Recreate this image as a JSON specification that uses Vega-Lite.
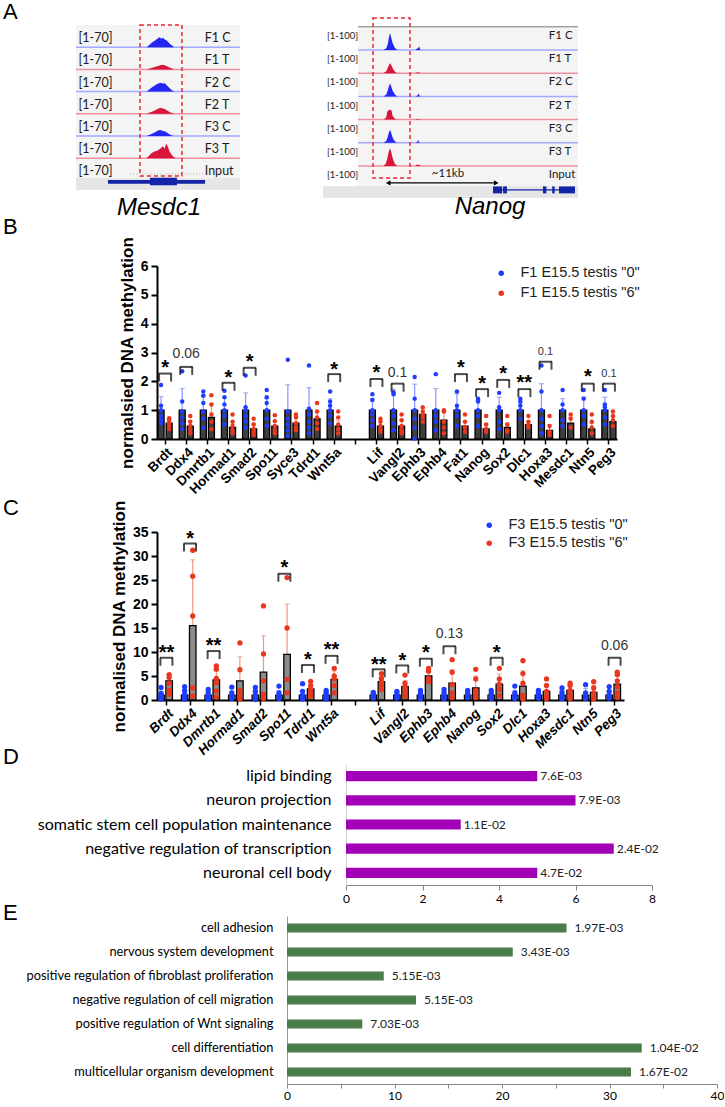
{
"$schema": "https://vega.github.io/schema/vega-lite/v6.json",
"padding": 0,
"background": "white",
"spacing": 0,
"bounds": "flush",
"align": "each",
"config": {"view": {"stroke": null}, "font": "Liberation Sans", "axis": {"grid": false}},
"resolve": {"scale": {"color": "independent"}},
"datasets": {
"mesdc1": [
{"kind":"label","track":"F1 C","grp":"C","range":"[1-70]"},
{"kind":"label","track":"F1 T","grp":"T","range":"[1-70]"},
{"kind":"label","track":"F2 C","grp":"C","range":"[1-70]"},
{"kind":"label","track":"F2 T","grp":"T","range":"[1-70]"},
{"kind":"label","track":"F3 C","grp":"C","range":"[1-70]"},
{"kind":"label","track":"F3 T","grp":"T","range":"[1-70]"},
{"kind":"label","track":"Input","grp":"Input","range":"[1-70]"},
{"kind":"band","track":"gene"},
{"kind":"utr","track":"gene","start":19.5,"end":78.7},
{"kind":"cds","track":"gene","start":45.1,"end":61.6},
{"kind":"peak","track":"F1 C","grp":"C","pos":43,"sig":0},{"kind":"peak","track":"F1 C","grp":"C","pos":44.5,"sig":6},{"kind":"peak","track":"F1 C","grp":"C","pos":46,"sig":13},{"kind":"peak","track":"F1 C","grp":"C","pos":47.5,"sig":19},{"kind":"peak","track":"F1 C","grp":"C","pos":49,"sig":24},{"kind":"peak","track":"F1 C","grp":"C","pos":50,"sig":28},{"kind":"peak","track":"F1 C","grp":"C","pos":51,"sig":31},{"kind":"peak","track":"F1 C","grp":"C","pos":52,"sig":27},{"kind":"peak","track":"F1 C","grp":"C","pos":53,"sig":30},{"kind":"peak","track":"F1 C","grp":"C","pos":54,"sig":25},{"kind":"peak","track":"F1 C","grp":"C","pos":55.5,"sig":20},{"kind":"peak","track":"F1 C","grp":"C","pos":57,"sig":12},{"kind":"peak","track":"F1 C","grp":"C","pos":58.5,"sig":5},{"kind":"peak","track":"F1 C","grp":"C","pos":60,"sig":0},
{"kind":"peak","track":"F1 T","grp":"T","pos":43,"sig":0},{"kind":"peak","track":"F1 T","grp":"T","pos":45,"sig":3},{"kind":"peak","track":"F1 T","grp":"T","pos":47,"sig":6},{"kind":"peak","track":"F1 T","grp":"T","pos":49,"sig":9},{"kind":"peak","track":"F1 T","grp":"T","pos":51,"sig":12},{"kind":"peak","track":"F1 T","grp":"T","pos":52.5,"sig":15},{"kind":"peak","track":"F1 T","grp":"T","pos":54,"sig":13},{"kind":"peak","track":"F1 T","grp":"T","pos":55.5,"sig":10},{"kind":"peak","track":"F1 T","grp":"T","pos":57,"sig":6},{"kind":"peak","track":"F1 T","grp":"T","pos":59,"sig":2},{"kind":"peak","track":"F1 T","grp":"T","pos":60,"sig":0},
{"kind":"peak","track":"F2 C","grp":"C","pos":43,"sig":0},{"kind":"peak","track":"F2 C","grp":"C","pos":44.5,"sig":6},{"kind":"peak","track":"F2 C","grp":"C","pos":46,"sig":12},{"kind":"peak","track":"F2 C","grp":"C","pos":47.5,"sig":18},{"kind":"peak","track":"F2 C","grp":"C","pos":49,"sig":22},{"kind":"peak","track":"F2 C","grp":"C","pos":50.5,"sig":26},{"kind":"peak","track":"F2 C","grp":"C","pos":52,"sig":28},{"kind":"peak","track":"F2 C","grp":"C","pos":53,"sig":25},{"kind":"peak","track":"F2 C","grp":"C","pos":54,"sig":27},{"kind":"peak","track":"F2 C","grp":"C","pos":55.5,"sig":19},{"kind":"peak","track":"F2 C","grp":"C","pos":57,"sig":11},{"kind":"peak","track":"F2 C","grp":"C","pos":58.5,"sig":4},{"kind":"peak","track":"F2 C","grp":"C","pos":60,"sig":0},
{"kind":"peak","track":"F2 T","grp":"T","pos":43,"sig":0},{"kind":"peak","track":"F2 T","grp":"T","pos":45,"sig":4},{"kind":"peak","track":"F2 T","grp":"T","pos":47,"sig":8},{"kind":"peak","track":"F2 T","grp":"T","pos":48.5,"sig":12},{"kind":"peak","track":"F2 T","grp":"T","pos":50,"sig":16},{"kind":"peak","track":"F2 T","grp":"T","pos":51.5,"sig":19},{"kind":"peak","track":"F2 T","grp":"T","pos":53,"sig":17},{"kind":"peak","track":"F2 T","grp":"T","pos":54.5,"sig":14},{"kind":"peak","track":"F2 T","grp":"T","pos":56,"sig":9},{"kind":"peak","track":"F2 T","grp":"T","pos":57.5,"sig":5},{"kind":"peak","track":"F2 T","grp":"T","pos":59,"sig":2},{"kind":"peak","track":"F2 T","grp":"T","pos":60,"sig":0},
{"kind":"peak","track":"F3 C","grp":"C","pos":43,"sig":0},{"kind":"peak","track":"F3 C","grp":"C","pos":45,"sig":4},{"kind":"peak","track":"F3 C","grp":"C","pos":47,"sig":9},{"kind":"peak","track":"F3 C","grp":"C","pos":48.5,"sig":13},{"kind":"peak","track":"F3 C","grp":"C","pos":50,"sig":17},{"kind":"peak","track":"F3 C","grp":"C","pos":51.5,"sig":19},{"kind":"peak","track":"F3 C","grp":"C","pos":53,"sig":16},{"kind":"peak","track":"F3 C","grp":"C","pos":54.5,"sig":14},{"kind":"peak","track":"F3 C","grp":"C","pos":56,"sig":9},{"kind":"peak","track":"F3 C","grp":"C","pos":57.5,"sig":4},{"kind":"peak","track":"F3 C","grp":"C","pos":59,"sig":1},{"kind":"peak","track":"F3 C","grp":"C","pos":60,"sig":0},
{"kind":"peak","track":"F3 T","grp":"T","pos":43,"sig":0},{"kind":"peak","track":"F3 T","grp":"T","pos":44.5,"sig":8},{"kind":"peak","track":"F3 T","grp":"T","pos":46,"sig":16},{"kind":"peak","track":"F3 T","grp":"T","pos":47.5,"sig":20},{"kind":"peak","track":"F3 T","grp":"T","pos":49,"sig":23},{"kind":"peak","track":"F3 T","grp":"T","pos":50.5,"sig":27},{"kind":"peak","track":"F3 T","grp":"T","pos":52,"sig":33},{"kind":"peak","track":"F3 T","grp":"T","pos":53,"sig":38},{"kind":"peak","track":"F3 T","grp":"T","pos":54,"sig":30},{"kind":"peak","track":"F3 T","grp":"T","pos":55,"sig":46},{"kind":"peak","track":"F3 T","grp":"T","pos":56,"sig":36},{"kind":"peak","track":"F3 T","grp":"T","pos":57,"sig":22},{"kind":"peak","track":"F3 T","grp":"T","pos":58.5,"sig":9},{"kind":"peak","track":"F3 T","grp":"T","pos":60,"sig":2},{"kind":"peak","track":"F3 T","grp":"T","pos":61,"sig":0}
],
"nanog": [
{"kind":"label","track":"F1 C","grp":"C","range":"[1-100]"},
{"kind":"label","track":"F1 T","grp":"T","range":"[1-100]"},
{"kind":"label","track":"F2 C","grp":"C","range":"[1-100]"},
{"kind":"label","track":"F2 T","grp":"T","range":"[1-100]"},
{"kind":"label","track":"F3 C","grp":"C","range":"[1-100]"},
{"kind":"label","track":"F3 T","grp":"T","range":"[1-100]"},
{"kind":"label","track":"Input","grp":"Input","range":"[1-100]"},
{"kind":"band","track":"gene"},
{"kind":"intron","track":"gene","start":13.87,"end":22.29},
{"kind":"cds","track":"gene","start":13.87,"end":14.8},
{"kind":"cds","track":"gene","start":14.9,"end":15.3},
{"kind":"cds","track":"gene","start":19.0,"end":19.35},
{"kind":"cds","track":"gene","start":19.95,"end":20.2},
{"kind":"cds","track":"gene","start":20.65,"end":22.29},
{"kind":"peak","track":"F1 C","grp":"C","pos":2.6,"sig":0},{"kind":"peak","track":"F1 C","grp":"C","pos":2.9,"sig":8},{"kind":"peak","track":"F1 C","grp":"C","pos":3.05,"sig":25},{"kind":"peak","track":"F1 C","grp":"C","pos":3.15,"sig":50},{"kind":"peak","track":"F1 C","grp":"C","pos":3.28,"sig":73},{"kind":"peak","track":"F1 C","grp":"C","pos":3.4,"sig":55},{"kind":"peak","track":"F1 C","grp":"C","pos":3.55,"sig":30},{"kind":"peak","track":"F1 C","grp":"C","pos":3.75,"sig":12},{"kind":"peak","track":"F1 C","grp":"C","pos":4.0,"sig":0},{"kind":"peak","track":"F1 C","grp":"C","pos":5.9,"sig":0},{"kind":"peak","track":"F1 C","grp":"C","pos":6.0,"sig":4},{"kind":"peak","track":"F1 C","grp":"C","pos":6.15,"sig":8},{"kind":"peak","track":"F1 C","grp":"C","pos":6.3,"sig":15},{"kind":"peak","track":"F1 C","grp":"C","pos":6.4,"sig":0},
{"kind":"peak","track":"F1 T","grp":"T","pos":2.6,"sig":0},{"kind":"peak","track":"F1 T","grp":"T","pos":2.9,"sig":8},{"kind":"peak","track":"F1 T","grp":"T","pos":3.05,"sig":22},{"kind":"peak","track":"F1 T","grp":"T","pos":3.2,"sig":38},{"kind":"peak","track":"F1 T","grp":"T","pos":3.3,"sig":43},{"kind":"peak","track":"F1 T","grp":"T","pos":3.45,"sig":32},{"kind":"peak","track":"F1 T","grp":"T","pos":3.6,"sig":18},{"kind":"peak","track":"F1 T","grp":"T","pos":3.8,"sig":6},{"kind":"peak","track":"F1 T","grp":"T","pos":4.0,"sig":0},{"kind":"peak","track":"F1 T","grp":"T","pos":5.9,"sig":0},{"kind":"peak","track":"F1 T","grp":"T","pos":6.0,"sig":3},{"kind":"peak","track":"F1 T","grp":"T","pos":6.3,"sig":3},{"kind":"peak","track":"F1 T","grp":"T","pos":6.4,"sig":0},
{"kind":"peak","track":"F2 C","grp":"C","pos":2.6,"sig":0},{"kind":"peak","track":"F2 C","grp":"C","pos":2.9,"sig":8},{"kind":"peak","track":"F2 C","grp":"C","pos":3.05,"sig":25},{"kind":"peak","track":"F2 C","grp":"C","pos":3.18,"sig":45},{"kind":"peak","track":"F2 C","grp":"C","pos":3.3,"sig":56},{"kind":"peak","track":"F2 C","grp":"C","pos":3.42,"sig":42},{"kind":"peak","track":"F2 C","grp":"C","pos":3.58,"sig":22},{"kind":"peak","track":"F2 C","grp":"C","pos":3.8,"sig":8},{"kind":"peak","track":"F2 C","grp":"C","pos":4.0,"sig":0},{"kind":"peak","track":"F2 C","grp":"C","pos":5.9,"sig":0},{"kind":"peak","track":"F2 C","grp":"C","pos":6.1,"sig":4},{"kind":"peak","track":"F2 C","grp":"C","pos":6.25,"sig":12},{"kind":"peak","track":"F2 C","grp":"C","pos":6.35,"sig":0},
{"kind":"peak","track":"F2 T","grp":"T","pos":2.65,"sig":0},{"kind":"peak","track":"F2 T","grp":"T","pos":2.9,"sig":10},{"kind":"peak","track":"F2 T","grp":"T","pos":3.0,"sig":35},{"kind":"peak","track":"F2 T","grp":"T","pos":3.15,"sig":40},{"kind":"peak","track":"F2 T","grp":"T","pos":3.3,"sig":43},{"kind":"peak","track":"F2 T","grp":"T","pos":3.45,"sig":38},{"kind":"peak","track":"F2 T","grp":"T","pos":3.55,"sig":15},{"kind":"peak","track":"F2 T","grp":"T","pos":3.8,"sig":4},{"kind":"peak","track":"F2 T","grp":"T","pos":4.0,"sig":0},{"kind":"peak","track":"F2 T","grp":"T","pos":5.9,"sig":0},{"kind":"peak","track":"F2 T","grp":"T","pos":6.0,"sig":3},{"kind":"peak","track":"F2 T","grp":"T","pos":6.3,"sig":3},{"kind":"peak","track":"F2 T","grp":"T","pos":6.4,"sig":0},
{"kind":"peak","track":"F3 C","grp":"C","pos":2.6,"sig":0},{"kind":"peak","track":"F3 C","grp":"C","pos":2.9,"sig":8},{"kind":"peak","track":"F3 C","grp":"C","pos":3.05,"sig":25},{"kind":"peak","track":"F3 C","grp":"C","pos":3.18,"sig":45},{"kind":"peak","track":"F3 C","grp":"C","pos":3.3,"sig":56},{"kind":"peak","track":"F3 C","grp":"C","pos":3.42,"sig":40},{"kind":"peak","track":"F3 C","grp":"C","pos":3.58,"sig":20},{"kind":"peak","track":"F3 C","grp":"C","pos":3.8,"sig":6},{"kind":"peak","track":"F3 C","grp":"C","pos":4.0,"sig":0},{"kind":"peak","track":"F3 C","grp":"C","pos":5.9,"sig":0},{"kind":"peak","track":"F3 C","grp":"C","pos":6.1,"sig":4},{"kind":"peak","track":"F3 C","grp":"C","pos":6.2,"sig":12},{"kind":"peak","track":"F3 C","grp":"C","pos":6.3,"sig":0},
{"kind":"peak","track":"F3 T","grp":"T","pos":2.6,"sig":0},{"kind":"peak","track":"F3 T","grp":"T","pos":2.85,"sig":10},{"kind":"peak","track":"F3 T","grp":"T","pos":3.0,"sig":30},{"kind":"peak","track":"F3 T","grp":"T","pos":3.15,"sig":60},{"kind":"peak","track":"F3 T","grp":"T","pos":3.28,"sig":78},{"kind":"peak","track":"F3 T","grp":"T","pos":3.4,"sig":62},{"kind":"peak","track":"F3 T","grp":"T","pos":3.55,"sig":35},{"kind":"peak","track":"F3 T","grp":"T","pos":3.75,"sig":12},{"kind":"peak","track":"F3 T","grp":"T","pos":4.0,"sig":0},{"kind":"peak","track":"F3 T","grp":"T","pos":5.9,"sig":0},{"kind":"peak","track":"F3 T","grp":"T","pos":6.0,"sig":6},{"kind":"peak","track":"F3 T","grp":"T","pos":6.15,"sig":4},{"kind":"peak","track":"F3 T","grp":"T","pos":6.3,"sig":7},{"kind":"peak","track":"F3 T","grp":"T","pos":6.4,"sig":0}
],
"bSum": [
{"gene":"Brdt","grp":"0","mean":1,"hi":1.47},{"gene":"Brdt","grp":"6","mean":0.55,"hi":0.72},
{"gene":"Ddx4","grp":"0","mean":1,"hi":1.75},{"gene":"Ddx4","grp":"6","mean":0.45,"hi":0.62},
{"gene":"Dmrtb1","grp":"0","mean":1,"hi":1.5},{"gene":"Dmrtb1","grp":"6","mean":0.75,"hi":1.2},
{"gene":"Hormad1","grp":"0","mean":1,"hi":1.45},{"gene":"Hormad1","grp":"6","mean":0.4,"hi":0.6},
{"gene":"Smad2","grp":"0","mean":1,"hi":1.6},{"gene":"Smad2","grp":"6","mean":0.35,"hi":0.55},
{"gene":"Spo11","grp":"0","mean":1,"hi":1.4},{"gene":"Spo11","grp":"6","mean":0.45,"hi":0.62},
{"gene":"Syce3","grp":"0","mean":1,"hi":1.88},{"gene":"Syce3","grp":"6","mean":0.55,"hi":0.78},
{"gene":"Tdrd1","grp":"0","mean":1,"hi":1.78},{"gene":"Tdrd1","grp":"6","mean":0.7,"hi":0.95},
{"gene":"Wnt5a","grp":"0","mean":1,"hi":1.4},{"gene":"Wnt5a","grp":"6","mean":0.45,"hi":0.65},
{"gene":"Lif","grp":"0","mean":1,"hi":1.4},{"gene":"Lif","grp":"6","mean":0.45,"hi":0.6},
{"gene":"Vangl2","grp":"0","mean":1,"hi":1.73},{"gene":"Vangl2","grp":"6","mean":0.45,"hi":0.65},
{"gene":"Ephb3","grp":"0","mean":1,"hi":1.9},{"gene":"Ephb3","grp":"6","mean":0.85,"hi":1.05},
{"gene":"Ephb4","grp":"0","mean":1,"hi":1.75},{"gene":"Ephb4","grp":"6","mean":0.65,"hi":0.95},
{"gene":"Fat1","grp":"0","mean":1,"hi":1.57},{"gene":"Fat1","grp":"6","mean":0.45,"hi":0.6},
{"gene":"Nanog","grp":"0","mean":1,"hi":1.35},{"gene":"Nanog","grp":"6","mean":0.35,"hi":0.52},
{"gene":"Sox2","grp":"0","mean":1,"hi":1.45},{"gene":"Sox2","grp":"6","mean":0.4,"hi":0.55},
{"gene":"Dlc1","grp":"0","mean":1,"hi":1.25},{"gene":"Dlc1","grp":"6","mean":0.5,"hi":0.62},
{"gene":"Hoxa3","grp":"0","mean":1,"hi":1.92},{"gene":"Hoxa3","grp":"6","mean":0.3,"hi":0.5},
{"gene":"Mesdc1","grp":"0","mean":1,"hi":1.4},{"gene":"Mesdc1","grp":"6","mean":0.55,"hi":0.75},
{"gene":"Ntn5","grp":"0","mean":1,"hi":1.45},{"gene":"Ntn5","grp":"6","mean":0.35,"hi":0.55},
{"gene":"Peg3","grp":"0","mean":1,"hi":1.45},{"gene":"Peg3","grp":"6","mean":0.6,"hi":0.78}
],
"bPts": [
{"gene":"Brdt","grp":"0","v":1.87},{"gene":"Brdt","grp":"0","v":1.15},{"gene":"Brdt","grp":"0","v":1.0},{"gene":"Brdt","grp":"0","v":0.8},{"gene":"Brdt","grp":"0","v":0.65},{"gene":"Brdt","grp":"0","v":0.55},
{"gene":"Brdt","grp":"6","v":0.72},{"gene":"Brdt","grp":"6","v":0.65},{"gene":"Brdt","grp":"6","v":0.55},{"gene":"Brdt","grp":"6","v":0.45},{"gene":"Brdt","grp":"6","v":0.35},
{"gene":"Ddx4","grp":"0","v":2.35},{"gene":"Ddx4","grp":"0","v":1.3},{"gene":"Ddx4","grp":"0","v":0.95},{"gene":"Ddx4","grp":"0","v":0.75},{"gene":"Ddx4","grp":"0","v":0.55},{"gene":"Ddx4","grp":"0","v":0.35},
{"gene":"Ddx4","grp":"6","v":0.8},{"gene":"Ddx4","grp":"6","v":0.6},{"gene":"Ddx4","grp":"6","v":0.45},{"gene":"Ddx4","grp":"6","v":0.32},{"gene":"Ddx4","grp":"6","v":0.2},
{"gene":"Dmrtb1","grp":"0","v":1.65},{"gene":"Dmrtb1","grp":"0","v":1.5},{"gene":"Dmrtb1","grp":"0","v":1.25},{"gene":"Dmrtb1","grp":"0","v":0.95},{"gene":"Dmrtb1","grp":"0","v":0.7},{"gene":"Dmrtb1","grp":"0","v":0.4},
{"gene":"Dmrtb1","grp":"6","v":1.52},{"gene":"Dmrtb1","grp":"6","v":1.2},{"gene":"Dmrtb1","grp":"6","v":0.85},{"gene":"Dmrtb1","grp":"6","v":0.6},{"gene":"Dmrtb1","grp":"6","v":0.35},
{"gene":"Hormad1","grp":"0","v":1.67},{"gene":"Hormad1","grp":"0","v":1.45},{"gene":"Hormad1","grp":"0","v":1.2},{"gene":"Hormad1","grp":"0","v":1.0},{"gene":"Hormad1","grp":"0","v":0.8},{"gene":"Hormad1","grp":"0","v":0.5},
{"gene":"Hormad1","grp":"6","v":0.85},{"gene":"Hormad1","grp":"6","v":0.6},{"gene":"Hormad1","grp":"6","v":0.45},{"gene":"Hormad1","grp":"6","v":0.3},{"gene":"Hormad1","grp":"6","v":0.2},
{"gene":"Smad2","grp":"0","v":2.2},{"gene":"Smad2","grp":"0","v":1.1},{"gene":"Smad2","grp":"0","v":1.0},{"gene":"Smad2","grp":"0","v":0.8},{"gene":"Smad2","grp":"0","v":0.6},{"gene":"Smad2","grp":"0","v":0.4},
{"gene":"Smad2","grp":"6","v":0.7},{"gene":"Smad2","grp":"6","v":0.5},{"gene":"Smad2","grp":"6","v":0.35},{"gene":"Smad2","grp":"6","v":0.25},{"gene":"Smad2","grp":"6","v":0.15},
{"gene":"Spo11","grp":"0","v":1.7},{"gene":"Spo11","grp":"0","v":1.45},{"gene":"Spo11","grp":"0","v":1.25},{"gene":"Spo11","grp":"0","v":1.0},{"gene":"Spo11","grp":"0","v":0.7},{"gene":"Spo11","grp":"0","v":0.45},
{"gene":"Spo11","grp":"6","v":0.82},{"gene":"Spo11","grp":"6","v":0.62},{"gene":"Spo11","grp":"6","v":0.45},{"gene":"Spo11","grp":"6","v":0.3},{"gene":"Spo11","grp":"6","v":0.2},
{"gene":"Syce3","grp":"0","v":2.75},{"gene":"Syce3","grp":"0","v":0.95},{"gene":"Syce3","grp":"0","v":0.7},{"gene":"Syce3","grp":"0","v":0.5},{"gene":"Syce3","grp":"0","v":0.3},{"gene":"Syce3","grp":"0","v":0.1},
{"gene":"Syce3","grp":"6","v":0.85},{"gene":"Syce3","grp":"6","v":0.75},{"gene":"Syce3","grp":"6","v":0.55},{"gene":"Syce3","grp":"6","v":0.4},{"gene":"Syce3","grp":"6","v":0.3},
{"gene":"Tdrd1","grp":"0","v":2.55},{"gene":"Tdrd1","grp":"0","v":1.05},{"gene":"Tdrd1","grp":"0","v":0.85},{"gene":"Tdrd1","grp":"0","v":0.6},{"gene":"Tdrd1","grp":"0","v":0.4},{"gene":"Tdrd1","grp":"0","v":0.2},
{"gene":"Tdrd1","grp":"6","v":1.25},{"gene":"Tdrd1","grp":"6","v":0.95},{"gene":"Tdrd1","grp":"6","v":0.75},{"gene":"Tdrd1","grp":"6","v":0.55},{"gene":"Tdrd1","grp":"6","v":0.35},
{"gene":"Wnt5a","grp":"0","v":1.65},{"gene":"Wnt5a","grp":"0","v":1.3},{"gene":"Wnt5a","grp":"0","v":1.15},{"gene":"Wnt5a","grp":"0","v":1.0},{"gene":"Wnt5a","grp":"0","v":0.8},{"gene":"Wnt5a","grp":"0","v":0.55},
{"gene":"Wnt5a","grp":"6","v":0.95},{"gene":"Wnt5a","grp":"6","v":0.75},{"gene":"Wnt5a","grp":"6","v":0.5},{"gene":"Wnt5a","grp":"6","v":0.35},{"gene":"Wnt5a","grp":"6","v":0.2},
{"gene":"Lif","grp":"0","v":1.55},{"gene":"Lif","grp":"0","v":1.35},{"gene":"Lif","grp":"0","v":1.0},{"gene":"Lif","grp":"0","v":0.85},{"gene":"Lif","grp":"0","v":0.65},{"gene":"Lif","grp":"0","v":0.45},
{"gene":"Lif","grp":"6","v":0.7},{"gene":"Lif","grp":"6","v":0.6},{"gene":"Lif","grp":"6","v":0.45},{"gene":"Lif","grp":"6","v":0.35},{"gene":"Lif","grp":"6","v":0.25},
{"gene":"Vangl2","grp":"0","v":1.62},{"gene":"Vangl2","grp":"0","v":1.55},{"gene":"Vangl2","grp":"0","v":1.0},{"gene":"Vangl2","grp":"0","v":0.8},{"gene":"Vangl2","grp":"0","v":0.55},{"gene":"Vangl2","grp":"0","v":0.3},
{"gene":"Vangl2","grp":"6","v":0.85},{"gene":"Vangl2","grp":"6","v":0.65},{"gene":"Vangl2","grp":"6","v":0.45},{"gene":"Vangl2","grp":"6","v":0.3},{"gene":"Vangl2","grp":"6","v":0.2},
{"gene":"Ephb3","grp":"0","v":2.15},{"gene":"Ephb3","grp":"0","v":1.4},{"gene":"Ephb3","grp":"0","v":1.0},{"gene":"Ephb3","grp":"0","v":0.7},{"gene":"Ephb3","grp":"0","v":0.4},{"gene":"Ephb3","grp":"0","v":0.02},
{"gene":"Ephb3","grp":"6","v":1.1},{"gene":"Ephb3","grp":"6","v":0.95},{"gene":"Ephb3","grp":"6","v":0.85},{"gene":"Ephb3","grp":"6","v":0.75},{"gene":"Ephb3","grp":"6","v":0.6},
{"gene":"Ephb4","grp":"0","v":2.25},{"gene":"Ephb4","grp":"0","v":1.0},{"gene":"Ephb4","grp":"0","v":0.8},{"gene":"Ephb4","grp":"0","v":0.6},{"gene":"Ephb4","grp":"0","v":0.3},
{"gene":"Ephb4","grp":"6","v":1.0},{"gene":"Ephb4","grp":"6","v":0.95},{"gene":"Ephb4","grp":"6","v":0.6},{"gene":"Ephb4","grp":"6","v":0.4},{"gene":"Ephb4","grp":"6","v":0.2},
{"gene":"Fat1","grp":"0","v":1.65},{"gene":"Fat1","grp":"0","v":1.15},{"gene":"Fat1","grp":"0","v":1.0},{"gene":"Fat1","grp":"0","v":0.8},{"gene":"Fat1","grp":"0","v":0.45},
{"gene":"Fat1","grp":"6","v":0.85},{"gene":"Fat1","grp":"6","v":0.6},{"gene":"Fat1","grp":"6","v":0.4},{"gene":"Fat1","grp":"6","v":0.25},
{"gene":"Nanog","grp":"0","v":1.4},{"gene":"Nanog","grp":"0","v":1.3},{"gene":"Nanog","grp":"0","v":1.0},{"gene":"Nanog","grp":"0","v":0.8},{"gene":"Nanog","grp":"0","v":0.45},
{"gene":"Nanog","grp":"6","v":0.8},{"gene":"Nanog","grp":"6","v":0.5},{"gene":"Nanog","grp":"6","v":0.35},{"gene":"Nanog","grp":"6","v":0.25},
{"gene":"Sox2","grp":"0","v":1.6},{"gene":"Sox2","grp":"0","v":1.1},{"gene":"Sox2","grp":"0","v":1.0},{"gene":"Sox2","grp":"0","v":0.6},{"gene":"Sox2","grp":"0","v":0.35},
{"gene":"Sox2","grp":"6","v":0.8},{"gene":"Sox2","grp":"6","v":0.5},{"gene":"Sox2","grp":"6","v":0.3},{"gene":"Sox2","grp":"6","v":0.25},
{"gene":"Dlc1","grp":"0","v":1.4},{"gene":"Dlc1","grp":"0","v":1.3},{"gene":"Dlc1","grp":"0","v":1.15},{"gene":"Dlc1","grp":"0","v":1.0},{"gene":"Dlc1","grp":"0","v":0.7},
{"gene":"Dlc1","grp":"6","v":0.8},{"gene":"Dlc1","grp":"6","v":0.6},{"gene":"Dlc1","grp":"6","v":0.5},{"gene":"Dlc1","grp":"6","v":0.4},
{"gene":"Hoxa3","grp":"0","v":2.55},{"gene":"Hoxa3","grp":"0","v":1.65},{"gene":"Hoxa3","grp":"0","v":1.0},{"gene":"Hoxa3","grp":"0","v":0.7},{"gene":"Hoxa3","grp":"0","v":0.45},{"gene":"Hoxa3","grp":"0","v":0.2},
{"gene":"Hoxa3","grp":"6","v":0.8},{"gene":"Hoxa3","grp":"6","v":0.45},{"gene":"Hoxa3","grp":"6","v":0.25},{"gene":"Hoxa3","grp":"6","v":0.15},
{"gene":"Mesdc1","grp":"0","v":1.7},{"gene":"Mesdc1","grp":"0","v":1.2},{"gene":"Mesdc1","grp":"0","v":1.0},{"gene":"Mesdc1","grp":"0","v":0.65},{"gene":"Mesdc1","grp":"0","v":0.45},
{"gene":"Mesdc1","grp":"6","v":0.85},{"gene":"Mesdc1","grp":"6","v":0.7},{"gene":"Mesdc1","grp":"6","v":0.4},
{"gene":"Ntn5","grp":"0","v":1.7},{"gene":"Ntn5","grp":"0","v":1.4},{"gene":"Ntn5","grp":"0","v":1.0},{"gene":"Ntn5","grp":"0","v":0.8},{"gene":"Ntn5","grp":"0","v":0.5},
{"gene":"Ntn5","grp":"6","v":0.85},{"gene":"Ntn5","grp":"6","v":0.6},{"gene":"Ntn5","grp":"6","v":0.4},{"gene":"Ntn5","grp":"6","v":0.2},
{"gene":"Peg3","grp":"0","v":1.7},{"gene":"Peg3","grp":"0","v":1.2},{"gene":"Peg3","grp":"0","v":1.1},{"gene":"Peg3","grp":"0","v":1.0},{"gene":"Peg3","grp":"0","v":0.75},{"gene":"Peg3","grp":"0","v":0.5},
{"gene":"Peg3","grp":"6","v":0.95},{"gene":"Peg3","grp":"6","v":0.8},{"gene":"Peg3","grp":"6","v":0.65},{"gene":"Peg3","grp":"6","v":0.45}
],
"bAnn": [
{"gene":"Brdt","btop":2.27,"ty":2.64,"lab":"*","kind":"star"},
{"gene":"Ddx4","btop":2.5,"ty":2.95,"lab":"0.06","kind":"p"},
{"gene":"Hormad1","btop":1.95,"ty":2.3,"lab":"*","kind":"star"},
{"gene":"Smad2","btop":2.47,"ty":2.85,"lab":"*","kind":"star"},
{"gene":"Wnt5a","btop":2.25,"ty":2.6,"lab":"*","kind":"star"},
{"gene":"Lif","btop":2.08,"ty":2.47,"lab":"*","kind":"star"},
{"gene":"Vangl2","btop":1.92,"ty":2.3,"lab":"0.1","kind":"p"},
{"gene":"Fat1","btop":2.25,"ty":2.65,"lab":"*","kind":"star"},
{"gene":"Nanog","btop":1.73,"ty":2.1,"lab":"*","kind":"star"},
{"gene":"Sox2","btop":2.05,"ty":2.45,"lab":"*","kind":"star"},
{"gene":"Dlc1","btop":1.73,"ty":2.13,"lab":"**","kind":"star"},
{"gene":"Hoxa3","btop":2.68,"ty":3.02,"lab":"0.1","kind":"ps"},
{"gene":"Ntn5","btop":1.92,"ty":2.33,"lab":"*","kind":"star"},
{"gene":"Peg3","btop":1.92,"ty":2.27,"lab":"0.1","kind":"ps"}
],
"cSum": [
{"gene":"Brdt","grp":"0","mean":1,"hi":1.8},{"gene":"Brdt","grp":"6","mean":4.0,"hi":5.2},
{"gene":"Ddx4","grp":"0","mean":1,"hi":1.9},{"gene":"Ddx4","grp":"6","mean":15.5,"hi":29.2},
{"gene":"Dmrtb1","grp":"0","mean":1,"hi":1.8},{"gene":"Dmrtb1","grp":"6","mean":4.2,"hi":6.2},
{"gene":"Hormad1","grp":"0","mean":1,"hi":1.9},{"gene":"Hormad1","grp":"6","mean":4.0,"hi":9.0},
{"gene":"Smad2","grp":"0","mean":1,"hi":2.0},{"gene":"Smad2","grp":"6","mean":5.8,"hi":13.4},
{"gene":"Spo11","grp":"0","mean":1,"hi":2.0},{"gene":"Spo11","grp":"6","mean":9.5,"hi":20.0},
{"gene":"Tdrd1","grp":"0","mean":1,"hi":2.0},{"gene":"Tdrd1","grp":"6","mean":2.3,"hi":3.2},
{"gene":"Wnt5a","grp":"0","mean":1,"hi":1.6},{"gene":"Wnt5a","grp":"6","mean":4.3,"hi":6.0},
{"gene":"Lif","grp":"0","mean":1,"hi":1.5},{"gene":"Lif","grp":"6","mean":3.8,"hi":4.9},
{"gene":"Vangl2","grp":"0","mean":1,"hi":1.5},{"gene":"Vangl2","grp":"6","mean":2.8,"hi":4.0},
{"gene":"Ephb3","grp":"0","mean":1,"hi":1.6},{"gene":"Ephb3","grp":"6","mean":5.0,"hi":6.2},
{"gene":"Ephb4","grp":"0","mean":1,"hi":1.6},{"gene":"Ephb4","grp":"6","mean":3.5,"hi":6.3},
{"gene":"Nanog","grp":"0","mean":1,"hi":1.7},{"gene":"Nanog","grp":"6","mean":2.5,"hi":5.0},
{"gene":"Sox2","grp":"0","mean":1,"hi":1.5},{"gene":"Sox2","grp":"6","mean":3.3,"hi":5.4},
{"gene":"Dlc1","grp":"0","mean":1,"hi":2.0},{"gene":"Dlc1","grp":"6","mean":2.9,"hi":6.1},
{"gene":"Hoxa3","grp":"0","mean":1,"hi":1.5},{"gene":"Hoxa3","grp":"6","mean":1.8,"hi":3.3},
{"gene":"Mesdc1","grp":"0","mean":1,"hi":1.8},{"gene":"Mesdc1","grp":"6","mean":2.0,"hi":3.3},
{"gene":"Ntn5","grp":"0","mean":1,"hi":2.4},{"gene":"Ntn5","grp":"6","mean":1.6,"hi":3.0},
{"gene":"Peg3","grp":"0","mean":1,"hi":1.9},{"gene":"Peg3","grp":"6","mean":3.3,"hi":5.0}
],
"cPts": [
{"gene":"Brdt","grp":"0","v":2.6},{"gene":"Brdt","grp":"0","v":1.4},{"gene":"Brdt","grp":"0","v":0.9},{"gene":"Brdt","grp":"0","v":0.5},{"gene":"Brdt","grp":"0","v":0.2},
{"gene":"Brdt","grp":"6","v":5.3},{"gene":"Brdt","grp":"6","v":4.7},{"gene":"Brdt","grp":"6","v":3.5},{"gene":"Brdt","grp":"6","v":2.0},{"gene":"Brdt","grp":"6","v":1.2},
{"gene":"Ddx4","grp":"0","v":2.8},{"gene":"Ddx4","grp":"0","v":2.0},{"gene":"Ddx4","grp":"0","v":1.2},{"gene":"Ddx4","grp":"0","v":0.5},{"gene":"Ddx4","grp":"0","v":0.2},
{"gene":"Ddx4","grp":"6","v":31.2},{"gene":"Ddx4","grp":"6","v":25.8},{"gene":"Ddx4","grp":"6","v":17.5},{"gene":"Ddx4","grp":"6","v":2.5},{"gene":"Ddx4","grp":"6","v":0.8},
{"gene":"Dmrtb1","grp":"0","v":2.2},{"gene":"Dmrtb1","grp":"0","v":1.5},{"gene":"Dmrtb1","grp":"0","v":0.8},{"gene":"Dmrtb1","grp":"0","v":0.4},{"gene":"Dmrtb1","grp":"0","v":0.2},
{"gene":"Dmrtb1","grp":"6","v":7.1},{"gene":"Dmrtb1","grp":"6","v":6.4},{"gene":"Dmrtb1","grp":"6","v":4.5},{"gene":"Dmrtb1","grp":"6","v":3.6},{"gene":"Dmrtb1","grp":"6","v":1.9},{"gene":"Dmrtb1","grp":"6","v":0.6},
{"gene":"Hormad1","grp":"0","v":2.7},{"gene":"Hormad1","grp":"0","v":1.5},{"gene":"Hormad1","grp":"0","v":0.8},{"gene":"Hormad1","grp":"0","v":0.3},
{"gene":"Hormad1","grp":"6","v":11.9},{"gene":"Hormad1","grp":"6","v":6.3},{"gene":"Hormad1","grp":"6","v":2.0},{"gene":"Hormad1","grp":"6","v":1.0},{"gene":"Hormad1","grp":"6","v":0.2},
{"gene":"Smad2","grp":"0","v":2.6},{"gene":"Smad2","grp":"0","v":1.8},{"gene":"Smad2","grp":"0","v":1.0},{"gene":"Smad2","grp":"0","v":0.4},{"gene":"Smad2","grp":"0","v":0.1},
{"gene":"Smad2","grp":"6","v":19.6},{"gene":"Smad2","grp":"6","v":9.6},{"gene":"Smad2","grp":"6","v":4.0},{"gene":"Smad2","grp":"6","v":1.2},{"gene":"Smad2","grp":"6","v":0.3},
{"gene":"Spo11","grp":"0","v":2.9},{"gene":"Spo11","grp":"0","v":1.5},{"gene":"Spo11","grp":"0","v":0.9},{"gene":"Spo11","grp":"0","v":0.3},
{"gene":"Spo11","grp":"6","v":25.5},{"gene":"Spo11","grp":"6","v":15.0},{"gene":"Spo11","grp":"6","v":4.3},{"gene":"Spo11","grp":"6","v":1.5},
{"gene":"Tdrd1","grp":"0","v":3.4},{"gene":"Tdrd1","grp":"0","v":1.8},{"gene":"Tdrd1","grp":"0","v":1.0},{"gene":"Tdrd1","grp":"0","v":0.5},{"gene":"Tdrd1","grp":"0","v":0.2},
{"gene":"Tdrd1","grp":"6","v":3.9},{"gene":"Tdrd1","grp":"6","v":3.0},{"gene":"Tdrd1","grp":"6","v":2.3},{"gene":"Tdrd1","grp":"6","v":1.5},{"gene":"Tdrd1","grp":"6","v":0.8},
{"gene":"Wnt5a","grp":"0","v":2.0},{"gene":"Wnt5a","grp":"0","v":1.5},{"gene":"Wnt5a","grp":"0","v":1.0},{"gene":"Wnt5a","grp":"0","v":0.5},{"gene":"Wnt5a","grp":"0","v":0.2},
{"gene":"Wnt5a","grp":"6","v":6.6},{"gene":"Wnt5a","grp":"6","v":5.0},{"gene":"Wnt5a","grp":"6","v":4.4},{"gene":"Wnt5a","grp":"6","v":3.0},{"gene":"Wnt5a","grp":"6","v":1.5},
{"gene":"Lif","grp":"0","v":1.6},{"gene":"Lif","grp":"0","v":1.2},{"gene":"Lif","grp":"0","v":0.8},{"gene":"Lif","grp":"0","v":0.4},
{"gene":"Lif","grp":"6","v":5.5},{"gene":"Lif","grp":"6","v":4.5},{"gene":"Lif","grp":"6","v":3.8},{"gene":"Lif","grp":"6","v":3.0},{"gene":"Lif","grp":"6","v":2.2},
{"gene":"Vangl2","grp":"0","v":1.8},{"gene":"Vangl2","grp":"0","v":1.3},{"gene":"Vangl2","grp":"0","v":0.8},{"gene":"Vangl2","grp":"0","v":0.4},
{"gene":"Vangl2","grp":"6","v":5.2},{"gene":"Vangl2","grp":"6","v":3.5},{"gene":"Vangl2","grp":"6","v":2.8},{"gene":"Vangl2","grp":"6","v":1.8},{"gene":"Vangl2","grp":"6","v":0.8},
{"gene":"Ephb3","grp":"0","v":2.0},{"gene":"Ephb3","grp":"0","v":1.4},{"gene":"Ephb3","grp":"0","v":0.9},{"gene":"Ephb3","grp":"0","v":0.3},
{"gene":"Ephb3","grp":"6","v":6.6},{"gene":"Ephb3","grp":"6","v":6.0},{"gene":"Ephb3","grp":"6","v":4.5},{"gene":"Ephb3","grp":"6","v":3.8},
{"gene":"Ephb4","grp":"0","v":2.2},{"gene":"Ephb4","grp":"0","v":1.5},{"gene":"Ephb4","grp":"0","v":0.8},{"gene":"Ephb4","grp":"0","v":0.3},
{"gene":"Ephb4","grp":"6","v":8.4},{"gene":"Ephb4","grp":"6","v":5.8},{"gene":"Ephb4","grp":"6","v":3.2},{"gene":"Ephb4","grp":"6","v":1.5},{"gene":"Ephb4","grp":"6","v":0.5},
{"gene":"Nanog","grp":"0","v":2.0},{"gene":"Nanog","grp":"0","v":1.5},{"gene":"Nanog","grp":"0","v":1.0},{"gene":"Nanog","grp":"0","v":0.5},
{"gene":"Nanog","grp":"6","v":6.4},{"gene":"Nanog","grp":"6","v":4.4},{"gene":"Nanog","grp":"6","v":2.0},{"gene":"Nanog","grp":"6","v":1.0},{"gene":"Nanog","grp":"6","v":0.5},
{"gene":"Sox2","grp":"0","v":2.0},{"gene":"Sox2","grp":"0","v":1.4},{"gene":"Sox2","grp":"0","v":0.8},{"gene":"Sox2","grp":"0","v":0.3},
{"gene":"Sox2","grp":"6","v":6.6},{"gene":"Sox2","grp":"6","v":4.4},{"gene":"Sox2","grp":"6","v":3.3},{"gene":"Sox2","grp":"6","v":2.2},{"gene":"Sox2","grp":"6","v":0.9},
{"gene":"Dlc1","grp":"0","v":2.9},{"gene":"Dlc1","grp":"0","v":1.5},{"gene":"Dlc1","grp":"0","v":0.8},{"gene":"Dlc1","grp":"0","v":0.3},
{"gene":"Dlc1","grp":"6","v":8.2},{"gene":"Dlc1","grp":"6","v":5.5},{"gene":"Dlc1","grp":"6","v":3.5},{"gene":"Dlc1","grp":"6","v":1.0},{"gene":"Dlc1","grp":"6","v":0.2},
{"gene":"Hoxa3","grp":"0","v":2.0},{"gene":"Hoxa3","grp":"0","v":1.4},{"gene":"Hoxa3","grp":"0","v":0.8},{"gene":"Hoxa3","grp":"0","v":0.4},
{"gene":"Hoxa3","grp":"6","v":4.4},{"gene":"Hoxa3","grp":"6","v":3.0},{"gene":"Hoxa3","grp":"6","v":1.8},{"gene":"Hoxa3","grp":"6","v":0.8},{"gene":"Hoxa3","grp":"6","v":0.3},
{"gene":"Mesdc1","grp":"0","v":2.5},{"gene":"Mesdc1","grp":"0","v":1.6},{"gene":"Mesdc1","grp":"0","v":1.0},{"gene":"Mesdc1","grp":"0","v":0.3},
{"gene":"Mesdc1","grp":"6","v":3.5},{"gene":"Mesdc1","grp":"6","v":3.0},{"gene":"Mesdc1","grp":"6","v":2.0},{"gene":"Mesdc1","grp":"6","v":1.0},{"gene":"Mesdc1","grp":"6","v":0.3},
{"gene":"Ntn5","grp":"0","v":3.2},{"gene":"Ntn5","grp":"0","v":1.5},{"gene":"Ntn5","grp":"0","v":0.7},{"gene":"Ntn5","grp":"0","v":0.3},
{"gene":"Ntn5","grp":"6","v":3.8},{"gene":"Ntn5","grp":"6","v":2.5},{"gene":"Ntn5","grp":"6","v":1.5},{"gene":"Ntn5","grp":"6","v":0.5},{"gene":"Ntn5","grp":"6","v":0.2},
{"gene":"Peg3","grp":"0","v":2.8},{"gene":"Peg3","grp":"0","v":1.8},{"gene":"Peg3","grp":"0","v":1.0},{"gene":"Peg3","grp":"0","v":0.4},
{"gene":"Peg3","grp":"6","v":5.8},{"gene":"Peg3","grp":"6","v":5.3},{"gene":"Peg3","grp":"6","v":4.0},{"gene":"Peg3","grp":"6","v":2.8},{"gene":"Peg3","grp":"6","v":1.5},{"gene":"Peg3","grp":"6","v":0.5}
],
"cAnn": [
{"gene":"Brdt","btop":8.8,"ty":10.9,"lab":"**","kind":"star"},
{"gene":"Ddx4","btop":32.6,"ty":34.6,"lab":"*","kind":"star"},
{"gene":"Dmrtb1","btop":10.2,"ty":12.3,"lab":"**","kind":"star"},
{"gene":"Spo11","btop":26.3,"ty":28.6,"lab":"*","kind":"star"},
{"gene":"Tdrd1","btop":7.3,"ty":9.5,"lab":"*","kind":"star"},
{"gene":"Wnt5a","btop":9.2,"ty":11.6,"lab":"**","kind":"star"},
{"gene":"Lif","btop":6.4,"ty":8.5,"lab":"**","kind":"star"},
{"gene":"Vangl2","btop":7.2,"ty":9.3,"lab":"*","kind":"star"},
{"gene":"Ephb3","btop":8.6,"ty":10.9,"lab":"*","kind":"star"},
{"gene":"Ephb4","btop":11.2,"ty":13.7,"lab":"0.13","kind":"p"},
{"gene":"Sox2","btop":8.8,"ty":10.9,"lab":"*","kind":"star"},
{"gene":"Peg3","btop":8.8,"ty":11.2,"lab":"0.06","kind":"p"}
],
"dGo": [
{"term":"lipid binding","n":5,"p":"7.6E-03"},
{"term":"neuron projection","n":6,"p":"7.9E-03"},
{"term":"somatic stem cell population maintenance","n":3,"p":"1.1E-02"},
{"term":"negative regulation of transcription","n":7,"p":"2.4E-02"},
{"term":"neuronal cell body","n":5,"p":"4.7E-02"}
],
"eGo": [
{"term":"cell adhesion","n":26,"p":"1.97E-03"},
{"term":"nervous system development","n":21,"p":"3.43E-03"},
{"term":"positive regulation of fibroblast proliferation","n":9,"p":"5.15E-03"},
{"term":"negative regulation of cell migration","n":12,"p":"5.15E-03"},
{"term":"positive regulation of Wnt signaling","n":7,"p":"7.03E-03"},
{"term":"cell differentiation","n":33,"p":"1.04E-02"},
{"term":"multicellular organism development","n":32,"p":"1.67E-02"}
]
},
"vconcat": [
{"width":578,"height":220,
 "title":{"text":"A","anchor":"start","frame":"group","orient":"top","offset":0,"baseline":"top","dx":3,"dy":22.8,"fontSize":22,"fontWeight":"normal","font":"Liberation Sans","color":"black"},
 "resolve":{"scale":{"x":"independent","y":"independent"}},
 "layer":[
  {"data":{"name":"mesdc1"},"transform":[{"filter":"datum.kind==='label'"}],"mark":{"type":"rect","fill":"#f4f4f4"},
   "encoding":{"x":{"datum":0,"type":"quantitative","scale":{"domain":[0,100],"range":[76,240],"nice":false},"axis":null},"x2":{"datum":100},
    "y":{"field":"track","type":"nominal","scale":{"type":"band","domain":["F1 C","F1 T","F2 C","F2 T","F3 C","F3 T","Input","gene"],"range":[24,201.6],"paddingInner":0,"paddingOuter":0},"axis":null}}},
  {"data":{"name":"mesdc1"},"transform":[{"filter":"datum.kind==='band'"}],"mark":{"type":"rect","fill":"#e6e6e6"},
   "encoding":{"x":{"datum":0,"type":"quantitative","scale":{"domain":[0,100],"range":[76,240],"nice":false},"axis":null},"x2":{"datum":100},
    "y":{"datum":6.89,"type":"quantitative","scale":{"domain":[0,8],"range":[24,201.6],"nice":false},"axis":null},"y2":{"datum":7.43}}},
  {"data":{"name":"mesdc1"},"transform":[{"filter":"datum.kind==='label' && datum.grp==='C'"}],"mark":{"type":"rule","strokeWidth":1.5,"stroke":"#a3a9ff"},
   "encoding":{"x":{"datum":0,"type":"quantitative","scale":{"domain":[0,100],"range":[76,240],"nice":false},"axis":null},"x2":{"datum":100},
    "y":{"field":"track","type":"nominal","bandPosition":1,"scale":{"type":"band","domain":["F1 C","F1 T","F2 C","F2 T","F3 C","F3 T","Input","gene"],"range":[24,201.6],"paddingInner":0,"paddingOuter":0},"axis":null}}},
  {"data":{"name":"mesdc1"},"transform":[{"filter":"datum.kind==='label' && datum.grp==='T'"}],"mark":{"type":"rule","strokeWidth":1.5,"stroke":"#ee8fa0"},
   "encoding":{"x":{"datum":0,"type":"quantitative","scale":{"domain":[0,100],"range":[76,240],"nice":false},"axis":null},"x2":{"datum":100},
    "y":{"field":"track","type":"nominal","bandPosition":1,"scale":{"type":"band","domain":["F1 C","F1 T","F2 C","F2 T","F3 C","F3 T","Input","gene"],"range":[24,201.6],"paddingInner":0,"paddingOuter":0},"axis":null}}},
  {"data":{"name":"mesdc1"},"transform":[{"filter":"datum.grp==='Input'"}],"mark":{"type":"rule","stroke":"#b0b0b0","strokeDash":[1,2]},
   "encoding":{"x":{"datum":33,"type":"quantitative","scale":{"domain":[0,100],"range":[76,240],"nice":false},"axis":null},"x2":{"datum":79},
    "y":{"datum":6.71,"type":"quantitative","scale":{"domain":[0,8],"range":[24,201.6],"nice":false},"axis":null}}},
  {"data":{"name":"mesdc1"},"transform":[{"filter":"datum.kind==='peak' && datum.track==='F1 C'"}],"mark":{"type":"area","color":"#2626f2"},
   "encoding":{"x":{"field":"pos","type":"quantitative","scale":{"domain":[0,100],"range":[76,240],"nice":false},"axis":null},"y":{"field":"sig","type":"quantitative","stack":null,"scale":{"domain":[0,70],"range":[46.2,24],"nice":false},"axis":null}}},
  {"data":{"name":"mesdc1"},"transform":[{"filter":"datum.kind==='peak' && datum.track==='F1 T'"}],"mark":{"type":"area","color":"#d8163a"},
   "encoding":{"x":{"field":"pos","type":"quantitative","scale":{"domain":[0,100],"range":[76,240],"nice":false},"axis":null},"y":{"field":"sig","type":"quantitative","stack":null,"scale":{"domain":[0,70],"range":[68.4,46.2],"nice":false},"axis":null}}},
  {"data":{"name":"mesdc1"},"transform":[{"filter":"datum.kind==='peak' && datum.track==='F2 C'"}],"mark":{"type":"area","color":"#2626f2"},
   "encoding":{"x":{"field":"pos","type":"quantitative","scale":{"domain":[0,100],"range":[76,240],"nice":false},"axis":null},"y":{"field":"sig","type":"quantitative","stack":null,"scale":{"domain":[0,70],"range":[90.6,68.4],"nice":false},"axis":null}}},
  {"data":{"name":"mesdc1"},"transform":[{"filter":"datum.kind==='peak' && datum.track==='F2 T'"}],"mark":{"type":"area","color":"#d8163a"},
   "encoding":{"x":{"field":"pos","type":"quantitative","scale":{"domain":[0,100],"range":[76,240],"nice":false},"axis":null},"y":{"field":"sig","type":"quantitative","stack":null,"scale":{"domain":[0,70],"range":[112.8,90.6],"nice":false},"axis":null}}},
  {"data":{"name":"mesdc1"},"transform":[{"filter":"datum.kind==='peak' && datum.track==='F3 C'"}],"mark":{"type":"area","color":"#2626f2"},
   "encoding":{"x":{"field":"pos","type":"quantitative","scale":{"domain":[0,100],"range":[76,240],"nice":false},"axis":null},"y":{"field":"sig","type":"quantitative","stack":null,"scale":{"domain":[0,70],"range":[135,112.8],"nice":false},"axis":null}}},
  {"data":{"name":"mesdc1"},"transform":[{"filter":"datum.kind==='peak' && datum.track==='F3 T'"}],"mark":{"type":"area","color":"#d8163a"},
   "encoding":{"x":{"field":"pos","type":"quantitative","scale":{"domain":[0,100],"range":[76,240],"nice":false},"axis":null},"y":{"field":"sig","type":"quantitative","stack":null,"scale":{"domain":[0,70],"range":[157.2,135],"nice":false},"axis":null}}},
  {"data":{"name":"mesdc1"},"transform":[{"filter":"datum.kind==='label' && datum.track==='F1 C'"}],"mark":{"type":"rect","fillOpacity":0,"stroke":"#e8282c","strokeDash":[4,3],"strokeWidth":1.5},
   "encoding":{"x":{"datum":39,"type":"quantitative","scale":{"domain":[0,100],"range":[76,240],"nice":false},"axis":null},"x2":{"datum":64.6},
    "y":{"datum":0,"type":"quantitative","scale":{"domain":[0,8],"range":[24,201.6],"nice":false},"axis":null},"y2":{"datum":6.8}}},
  {"data":{"name":"mesdc1"},"transform":[{"filter":"datum.kind==='label'"}],"mark":{"type":"text","align":"left","baseline":"middle","yOffset":2,"font":"Lato","fontSize":12.5,"color":"#1a1a1a"},
   "encoding":{"x":{"datum":1.5,"type":"quantitative","scale":{"domain":[0,100],"range":[76,240],"nice":false},"axis":null},
    "y":{"field":"track","type":"nominal","scale":{"type":"band","domain":["F1 C","F1 T","F2 C","F2 T","F3 C","F3 T","Input","gene"],"range":[24,201.6],"paddingInner":0,"paddingOuter":0},"axis":null},"text":{"field":"range"}}},
  {"data":{"name":"mesdc1"},"transform":[{"filter":"datum.kind==='label'"}],"mark":{"type":"text","align":"left","baseline":"middle","yOffset":2,"font":"Lato","fontSize":12.5,"color":"#1a1a1a"},
   "encoding":{"x":{"datum":78.5,"type":"quantitative","scale":{"domain":[0,100],"range":[76,240],"nice":false},"axis":null},
    "y":{"field":"track","type":"nominal","scale":{"type":"band","domain":["F1 C","F1 T","F2 C","F2 T","F3 C","F3 T","Input","gene"],"range":[24,201.6],"paddingInner":0,"paddingOuter":0},"axis":null},"text":{"field":"track"}}},
  {"data":{"name":"mesdc1"},"transform":[{"filter":"datum.kind==='utr'"}],"mark":{"type":"rect","fill":"#1424a8"},
   "encoding":{"x":{"field":"start","type":"quantitative","scale":{"domain":[0,100],"range":[76,240],"nice":false},"axis":null},"x2":{"field":"end"},
    "y":{"datum":6.98,"type":"quantitative","scale":{"domain":[0,8],"range":[24,201.6],"nice":false},"axis":null},"y2":{"datum":7.15}}},
  {"data":{"name":"mesdc1"},"transform":[{"filter":"datum.kind==='cds'"}],"mark":{"type":"rect","fill":"#1424a8"},
   "encoding":{"x":{"field":"start","type":"quantitative","scale":{"domain":[0,100],"range":[76,240],"nice":false},"axis":null},"x2":{"field":"end"},
    "y":{"datum":6.88,"type":"quantitative","scale":{"domain":[0,8],"range":[24,201.6],"nice":false},"axis":null},"y2":{"datum":7.22}}},
  {"data":{"name":"mesdc1"},"transform":[{"filter":"datum.kind==='label' && datum.track==='F1 C'"}],"mark":{"type":"text","align":"center","baseline":"middle","font":"Liberation Sans","fontSize":24,"fontStyle":"italic","color":"black"},
   "encoding":{"x":{"datum":50.6,"type":"quantitative","scale":{"domain":[0,100],"range":[76,240],"nice":false},"axis":null},
    "y":{"datum":8.24,"type":"quantitative","scale":{"domain":[0,8],"range":[24,201.6],"nice":false},"axis":null},"text":{"value":"Mesdc1"}}},

  {"data":{"name":"nanog"},"transform":[{"filter":"datum.kind==='label'"}],"mark":{"type":"rect","fill":"#f4f4f4"},
   "encoding":{"x":{"datum":0,"type":"quantitative","scale":{"domain":[-3.6,22.6],"range":[323,578],"nice":false},"axis":null},"x2":{"datum":22.6},
    "y":{"field":"track","type":"nominal","scale":{"type":"band","domain":["F1 C","F1 T","F2 C","F2 T","F3 C","F3 T","Input","gene"],"range":[25.8,211.4],"paddingInner":0,"paddingOuter":0},"axis":null}}},
  {"data":{"name":"nanog"},"transform":[{"filter":"datum.kind==='band'"}],"mark":{"type":"rect","fill":"#e6e6e6"},
   "encoding":{"x":{"datum":-3.6,"type":"quantitative","scale":{"domain":[-3.6,22.6],"range":[323,578],"nice":false},"axis":null},"x2":{"datum":22.6},
    "y":{"datum":6.86,"type":"quantitative","scale":{"domain":[0,8],"range":[25.8,211.4],"nice":false},"axis":null},"y2":{"datum":7.38}}},
  {"data":{"name":"nanog"},"transform":[{"filter":"datum.kind==='label' && datum.track==='F1 C'"}],"mark":{"type":"rule","stroke":"#7a7a7a","strokeWidth":1},
   "encoding":{"x":{"datum":0,"type":"quantitative","scale":{"domain":[-3.6,22.6],"range":[323,578],"nice":false},"axis":null},"x2":{"datum":22.6},
    "y":{"datum":0,"type":"quantitative","scale":{"domain":[0,8],"range":[25.8,211.4],"nice":false},"axis":null}}},
  {"data":{"name":"nanog"},"transform":[{"filter":"datum.kind==='label' && datum.grp==='C'"}],"mark":{"type":"rule","strokeWidth":1.5,"stroke":"#a3a9ff"},
   "encoding":{"x":{"datum":0,"type":"quantitative","scale":{"domain":[-3.6,22.6],"range":[323,578],"nice":false},"axis":null},"x2":{"datum":22.6},
    "y":{"field":"track","type":"nominal","bandPosition":1,"scale":{"type":"band","domain":["F1 C","F1 T","F2 C","F2 T","F3 C","F3 T","Input","gene"],"range":[25.8,211.4],"paddingInner":0,"paddingOuter":0},"axis":null}}},
  {"data":{"name":"nanog"},"transform":[{"filter":"datum.kind==='label' && datum.grp==='T'"}],"mark":{"type":"rule","strokeWidth":1.5,"stroke":"#ee8fa0"},
   "encoding":{"x":{"datum":0,"type":"quantitative","scale":{"domain":[-3.6,22.6],"range":[323,578],"nice":false},"axis":null},"x2":{"datum":22.6},
    "y":{"field":"track","type":"nominal","bandPosition":1,"scale":{"type":"band","domain":["F1 C","F1 T","F2 C","F2 T","F3 C","F3 T","Input","gene"],"range":[25.8,211.4],"paddingInner":0,"paddingOuter":0},"axis":null}}},
  {"data":{"name":"nanog"},"transform":[{"filter":"datum.kind==='peak' && datum.track==='F1 C'"}],"mark":{"type":"area","color":"#2626f2"},
   "encoding":{"x":{"field":"pos","type":"quantitative","scale":{"domain":[-3.6,22.6],"range":[323,578],"nice":false},"axis":null},"y":{"field":"sig","type":"quantitative","stack":null,"scale":{"domain":[0,100],"range":[49,25.8],"nice":false},"axis":null}}},
  {"data":{"name":"nanog"},"transform":[{"filter":"datum.kind==='peak' && datum.track==='F1 T'"}],"mark":{"type":"area","color":"#d8163a"},
   "encoding":{"x":{"field":"pos","type":"quantitative","scale":{"domain":[-3.6,22.6],"range":[323,578],"nice":false},"axis":null},"y":{"field":"sig","type":"quantitative","stack":null,"scale":{"domain":[0,100],"range":[72.2,49],"nice":false},"axis":null}}},
  {"data":{"name":"nanog"},"transform":[{"filter":"datum.kind==='peak' && datum.track==='F2 C'"}],"mark":{"type":"area","color":"#2626f2"},
   "encoding":{"x":{"field":"pos","type":"quantitative","scale":{"domain":[-3.6,22.6],"range":[323,578],"nice":false},"axis":null},"y":{"field":"sig","type":"quantitative","stack":null,"scale":{"domain":[0,100],"range":[95.4,72.2],"nice":false},"axis":null}}},
  {"data":{"name":"nanog"},"transform":[{"filter":"datum.kind==='peak' && datum.track==='F2 T'"}],"mark":{"type":"area","color":"#d8163a"},
   "encoding":{"x":{"field":"pos","type":"quantitative","scale":{"domain":[-3.6,22.6],"range":[323,578],"nice":false},"axis":null},"y":{"field":"sig","type":"quantitative","stack":null,"scale":{"domain":[0,100],"range":[118.6,95.4],"nice":false},"axis":null}}},
  {"data":{"name":"nanog"},"transform":[{"filter":"datum.kind==='peak' && datum.track==='F3 C'"}],"mark":{"type":"area","color":"#2626f2"},
   "encoding":{"x":{"field":"pos","type":"quantitative","scale":{"domain":[-3.6,22.6],"range":[323,578],"nice":false},"axis":null},"y":{"field":"sig","type":"quantitative","stack":null,"scale":{"domain":[0,100],"range":[141.8,118.6],"nice":false},"axis":null}}},
  {"data":{"name":"nanog"},"transform":[{"filter":"datum.kind==='peak' && datum.track==='F3 T'"}],"mark":{"type":"area","color":"#d8163a"},
   "encoding":{"x":{"field":"pos","type":"quantitative","scale":{"domain":[-3.6,22.6],"range":[323,578],"nice":false},"axis":null},"y":{"field":"sig","type":"quantitative","stack":null,"scale":{"domain":[0,100],"range":[165,141.8],"nice":false},"axis":null}}},
  {"data":{"name":"nanog"},"transform":[{"filter":"datum.kind==='label' && datum.track==='F1 C'"}],"mark":{"type":"rect","fillOpacity":0,"stroke":"#e8282c","strokeDash":[4,3],"strokeWidth":1.5},
   "encoding":{"x":{"datum":1.54,"type":"quantitative","scale":{"domain":[-3.6,22.6],"range":[323,578],"nice":false},"axis":null},"x2":{"datum":5.34},
    "y":{"datum":-0.38,"type":"quantitative","scale":{"domain":[0,8],"range":[25.8,211.4],"nice":false},"axis":null},"y2":{"datum":6.52}}},
  {"data":{"name":"nanog"},"transform":[{"filter":"datum.kind==='label'"}],"mark":{"type":"text","align":"left","baseline":"middle","yOffset":-2.5,"font":"Lato","fontSize":9.5,"color":"#1a1a1a"},
   "encoding":{"x":{"datum":-3.2,"type":"quantitative","scale":{"domain":[-3.6,22.6],"range":[323,578],"nice":false},"axis":null},
    "y":{"field":"track","type":"nominal","scale":{"type":"band","domain":["F1 C","F1 T","F2 C","F2 T","F3 C","F3 T","Input","gene"],"range":[25.8,211.4],"paddingInner":0,"paddingOuter":0},"axis":null},"text":{"field":"range"}}},
  {"data":{"name":"nanog"},"transform":[{"filter":"datum.kind==='label'"}],"mark":{"type":"text","align":"left","baseline":"middle","yOffset":-2.5,"font":"Lato","fontSize":11.5,"color":"#1a1a1a"},
   "encoding":{"x":{"datum":19.6,"type":"quantitative","scale":{"domain":[-3.6,22.6],"range":[323,578],"nice":false},"axis":null},
    "y":{"field":"track","type":"nominal","scale":{"type":"band","domain":["F1 C","F1 T","F2 C","F2 T","F3 C","F3 T","Input","gene"],"range":[25.8,211.4],"paddingInner":0,"paddingOuter":0},"axis":null},"text":{"field":"track"}}},
  {"data":{"name":"nanog"},"transform":[{"filter":"datum.grp==='Input'"}],"mark":{"type":"rule","stroke":"black","strokeWidth":1.2},
   "encoding":{"x":{"datum":3.1,"type":"quantitative","scale":{"domain":[-3.6,22.6],"range":[323,578],"nice":false},"axis":null},"x2":{"datum":14.2},
    "y":{"datum":6.73,"type":"quantitative","scale":{"domain":[0,8],"range":[25.8,211.4],"nice":false},"axis":null}}},
  {"data":{"name":"nanog"},"transform":[{"filter":"datum.grp==='Input'"}],"mark":{"type":"point","shape":"triangle-left","filled":true,"color":"black","size":28,"opacity":1},
   "encoding":{"x":{"datum":3.1,"type":"quantitative","scale":{"domain":[-3.6,22.6],"range":[323,578],"nice":false},"axis":null},
    "y":{"datum":6.73,"type":"quantitative","scale":{"domain":[0,8],"range":[25.8,211.4],"nice":false},"axis":null}}},
  {"data":{"name":"nanog"},"transform":[{"filter":"datum.grp==='Input'"}],"mark":{"type":"point","shape":"triangle-right","filled":true,"color":"black","size":28,"opacity":1},
   "encoding":{"x":{"datum":14.2,"type":"quantitative","scale":{"domain":[-3.6,22.6],"range":[323,578],"nice":false},"axis":null},
    "y":{"datum":6.73,"type":"quantitative","scale":{"domain":[0,8],"range":[25.8,211.4],"nice":false},"axis":null}}},
  {"data":{"name":"nanog"},"transform":[{"filter":"datum.grp==='Input'"}],"mark":{"type":"text","align":"center","baseline":"middle","font":"Lato","fontSize":11.5,"color":"#1a1a1a"},
   "encoding":{"x":{"datum":9.24,"type":"quantitative","scale":{"domain":[-3.6,22.6],"range":[323,578],"nice":false},"axis":null},
    "y":{"datum":6.34,"type":"quantitative","scale":{"domain":[0,8],"range":[25.8,211.4],"nice":false},"axis":null},"text":{"value":"~11kb"}}},
  {"data":{"name":"nanog"},"transform":[{"filter":"datum.kind==='intron'"}],"mark":{"type":"rect","fill":"#1424a8"},
   "encoding":{"x":{"field":"start","type":"quantitative","scale":{"domain":[-3.6,22.6],"range":[323,578],"nice":false},"axis":null},"x2":{"field":"end"},
    "y":{"datum":7.005,"type":"quantitative","scale":{"domain":[0,8],"range":[25.8,211.4],"nice":false},"axis":null},"y2":{"datum":7.055}}},
  {"data":{"name":"nanog"},"transform":[{"filter":"datum.kind==='cds'"}],"mark":{"type":"rect","fill":"#1424a8"},
   "encoding":{"x":{"field":"start","type":"quantitative","scale":{"domain":[-3.6,22.6],"range":[323,578],"nice":false},"axis":null},"x2":{"field":"end"},
    "y":{"datum":6.88,"type":"quantitative","scale":{"domain":[0,8],"range":[25.8,211.4],"nice":false},"axis":null},"y2":{"datum":7.18}}},
  {"data":{"name":"nanog"},"transform":[{"filter":"datum.kind==='label' && datum.track==='F1 C'"}],"mark":{"type":"text","align":"center","baseline":"middle","font":"Liberation Sans","fontSize":24,"fontStyle":"italic","color":"black"},
   "encoding":{"x":{"datum":13.56,"type":"quantitative","scale":{"domain":[-3.6,22.6],"range":[323,578],"nice":false},"axis":null},
    "y":{"datum":7.77,"type":"quantitative","scale":{"domain":[0,8],"range":[25.8,211.4],"nice":false},"axis":null},"text":{"value":"Nanog"}}}
 ]},
{"width":10,"height":45,"data":{"values":[{}]},"mark":{"type":"point","opacity":0},
 "title":{"text":"B","anchor":"start","frame":"group","orient":"top","offset":0,"baseline":"top","dx":3,"dy":17.8,"fontSize":22,"fontWeight":"normal","font":"Liberation Sans","color":"black"}},
{"width":617,"height":173,
 "layer":[
  {"data":{"name":"bSum"},"transform":[{"filter":"datum.grp==='0'"}],"mark":{"type":"rule","strokeWidth":1.2,"stroke":"#8595ff"},
   "encoding":{
    "x":{"field":"gene","type":"nominal","scale":{"type":"band","domain":["Brdt","Ddx4","Dmrtb1","Hormad1","Smad2","Spo11","Syce3","Tdrd1","Wnt5a"," ","Lif","Vangl2","Ephb3","Ephb4","Fat1","Nanog","Sox2","Dlc1","Hoxa3","Mesdc1","Ntn5","Peg3"],"range":[157,617],"paddingInner":0.234,"paddingOuter":0},
     "axis":{"title":null,"labelAngle":-45,"labelFont":"Liberation Sans","labelFontWeight":"bold","labelFontSize":13.5,"labelColor":"black","domainColor":"black","domainWidth":2,"tickColor":"black","tickWidth":1.5,"tickSize":5,"labelPadding":1}},
    "xOffset":{"field":"grp","type":"nominal","scale":{"domain":["0","6"],"paddingInner":0,"paddingOuter":0}},
    "y":{"field":"mean","type":"quantitative","scale":{"domain":[0,6],"nice":false},
     "axis":{"offset":-157,"title":"normalsied DNA methylation","titleFont":"Liberation Sans","titleFontSize":17,"titleFontWeight":"bold","titleColor":"black","titlePadding":4,"values":[0,1,2,3,4,5,6],"tickCount":7,"format":"d","labelOverlap":false,"labelFont":"Liberation Sans","labelFontSize":14,"labelFontWeight":"bold","labelColor":"black","domainColor":"black","domainWidth":2,"tickColor":"black","tickWidth":2,"tickSize":6,"labelPadding":3}},
    "y2":{"field":"hi"}}},
  {"data":{"name":"bSum"},"transform":[{"filter":"datum.grp==='6'"}],"mark":{"type":"rule","strokeWidth":1.2,"stroke":"#f29482"},
   "encoding":{"x":{"field":"gene","type":"nominal"},"xOffset":{"field":"grp","type":"nominal"},"y":{"field":"mean","type":"quantitative"},"y2":{"field":"hi"}}},
  {"data":{"name":"bSum"},"transform":[{"filter":"datum.grp==='0'"}],"mark":{"type":"tick","orient":"horizontal","size":5,"thickness":1.2,"color":"#8595ff"},
   "encoding":{"x":{"field":"gene","type":"nominal"},"xOffset":{"field":"grp","type":"nominal"},"y":{"field":"hi","type":"quantitative"}}},
  {"data":{"name":"bSum"},"transform":[{"filter":"datum.grp==='6'"}],"mark":{"type":"tick","orient":"horizontal","size":5,"thickness":1.2,"color":"#f29482"},
   "encoding":{"x":{"field":"gene","type":"nominal"},"xOffset":{"field":"grp","type":"nominal"},"y":{"field":"hi","type":"quantitative"}}},
  {"data":{"name":"bSum"},"mark":{"type":"bar","fill":"#3e3e3e","stroke":"black","strokeWidth":1.3,"width":6},
   "encoding":{"x":{"field":"gene","type":"nominal"},"xOffset":{"field":"grp","type":"nominal"},"y":{"field":"mean","type":"quantitative"}}},
  {"data":{"name":"bPts"},"mark":{"type":"point","filled":true,"size":20,"opacity":1},
   "encoding":{"x":{"field":"gene","type":"nominal"},"xOffset":{"field":"grp","type":"nominal"},"y":{"field":"v","type":"quantitative"},
    "color":{"field":"grp","type":"nominal","scale":{"domain":["0","6"],"range":["#1f3dff","#e8361f"]},
     "legend":{"orient":"none","legendX":494,"legendY":0,"title":null,"padding":0,"labelExpr":"'F1 E15.5 testis \"' + datum.label + '\"'","labelFont":"Liberation Sans","labelFontSize":14.5,"labelColor":"#222222","symbolType":"circle","symbolSize":30,"labelOffset":12,"rowPadding":5}}}},
  {"data":{"name":"bAnn"},"mark":{"type":"tick","orient":"horizontal","size":13,"thickness":2,"color":"black"},
   "encoding":{"x":{"field":"gene","type":"nominal"},"y":{"field":"btop","type":"quantitative"}}},
  {"data":{"name":"bAnn"},"mark":{"type":"tick","orient":"vertical","size":8,"thickness":2,"color":"black","xOffset":-6,"yOffset":4},
   "encoding":{"x":{"field":"gene","type":"nominal"},"y":{"field":"btop","type":"quantitative"}}},
  {"data":{"name":"bAnn"},"mark":{"type":"tick","orient":"vertical","size":8,"thickness":2,"color":"black","xOffset":6,"yOffset":4},
   "encoding":{"x":{"field":"gene","type":"nominal"},"y":{"field":"btop","type":"quantitative"}}},
  {"data":{"name":"bAnn"},"transform":[{"filter":"datum.kind==='star'"}],"mark":{"type":"text","fontSize":20,"fontWeight":"bold","baseline":"alphabetic","dy":11.5,"color":"black"},
   "encoding":{"x":{"field":"gene","type":"nominal"},"y":{"field":"ty","type":"quantitative"},"text":{"field":"lab"}}},
  {"data":{"name":"bAnn"},"transform":[{"filter":"datum.kind==='p'"}],"mark":{"type":"text","fontSize":14,"baseline":"middle","color":"#333333"},
   "encoding":{"x":{"field":"gene","type":"nominal"},"y":{"field":"ty","type":"quantitative"},"text":{"field":"lab"}}},
  {"data":{"name":"bAnn"},"transform":[{"filter":"datum.kind==='ps'"}],"mark":{"type":"text","fontSize":11,"baseline":"middle","color":"#333333"},
   "encoding":{"x":{"field":"gene","type":"nominal"},"y":{"field":"ty","type":"quantitative"},"text":{"field":"lab"}}}
 ]},
{"width":10,"height":93,"data":{"values":[{}]},"mark":{"type":"point","opacity":0},
 "title":{"text":"C","anchor":"start","frame":"group","orient":"top","offset":0,"baseline":"top","dx":3,"dy":80.8,"fontSize":22,"fontWeight":"normal","font":"Liberation Sans","color":"black"}},
{"width":624,"height":168,
 "layer":[
  {"data":{"name":"cSum"},"transform":[{"filter":"datum.grp==='0'"}],"mark":{"type":"rule","strokeWidth":1.2,"stroke":"#8595ff"},
   "encoding":{
    "x":{"field":"gene","type":"nominal","scale":{"type":"band","domain":["Brdt","Ddx4","Dmrtb1","Hormad1","Smad2","Spo11","Tdrd1","Wnt5a"," ","Lif","Vangl2","Ephb3","Ephb4","Nanog","Sox2","Dlc1","Hoxa3","Mesdc1","Ntn5","Peg3"],"range":[157,624],"paddingInner":0.2,"paddingOuter":0},
     "axis":{"title":null,"labelAngle":-45,"labelFont":"Liberation Sans","labelFontWeight":"bold","labelFontStyle":"italic","labelFontSize":13.5,"labelColor":"black","domainColor":"black","domainWidth":2,"tickColor":"black","tickWidth":1.5,"tickSize":5,"labelPadding":1}},
    "xOffset":{"field":"grp","type":"nominal","scale":{"domain":["0","6"],"paddingInner":0,"paddingOuter":0}},
    "y":{"field":"mean","type":"quantitative","scale":{"domain":[0,35],"nice":false},
     "axis":{"offset":-157,"title":"normalised DNA methylation","titleFont":"Liberation Sans","titleFontSize":17,"titleFontWeight":"bold","titleColor":"black","titlePadding":4,"values":[0,5,10,15,20,25,30,35],"tickCount":8,"format":"d","labelOverlap":false,"labelFont":"Liberation Sans","labelFontSize":14,"labelFontWeight":"bold","labelColor":"black","domainColor":"black","domainWidth":2,"tickColor":"black","tickWidth":2,"tickSize":6,"labelPadding":3}},
    "y2":{"field":"hi"}}},
  {"data":{"name":"cSum"},"transform":[{"filter":"datum.grp==='6'"}],"mark":{"type":"rule","strokeWidth":1.2,"stroke":"#f29482"},
   "encoding":{"x":{"field":"gene","type":"nominal"},"xOffset":{"field":"grp","type":"nominal"},"y":{"field":"mean","type":"quantitative"},"y2":{"field":"hi"}}},
  {"data":{"name":"cSum"},"transform":[{"filter":"datum.grp==='0'"}],"mark":{"type":"tick","orient":"horizontal","size":5,"thickness":1.2,"color":"#8595ff"},
   "encoding":{"x":{"field":"gene","type":"nominal"},"xOffset":{"field":"grp","type":"nominal"},"y":{"field":"hi","type":"quantitative"}}},
  {"data":{"name":"cSum"},"transform":[{"filter":"datum.grp==='6'"}],"mark":{"type":"tick","orient":"horizontal","size":5,"thickness":1.2,"color":"#f29482"},
   "encoding":{"x":{"field":"gene","type":"nominal"},"xOffset":{"field":"grp","type":"nominal"},"y":{"field":"hi","type":"quantitative"}}},
  {"data":{"name":"cSum"},"mark":{"type":"bar","fill":"#8c8c8c","stroke":"black","strokeWidth":1.3,"width":6.5},
   "encoding":{"x":{"field":"gene","type":"nominal"},"xOffset":{"field":"grp","type":"nominal"},"y":{"field":"mean","type":"quantitative"}}},
  {"data":{"name":"cPts"},"mark":{"type":"point","filled":true,"size":28,"opacity":1},
   "encoding":{"x":{"field":"gene","type":"nominal"},"xOffset":{"field":"grp","type":"nominal"},"y":{"field":"v","type":"quantitative"},
    "color":{"field":"grp","type":"nominal","scale":{"domain":["0","6"],"range":["#1f3dff","#e8361f"]},
     "legend":{"orient":"none","legendX":482,"legendY":-14,"title":null,"padding":0,"labelExpr":"'F3 E15.5 testis \"' + datum.label + '\"'","labelFont":"Liberation Sans","labelFontSize":14.5,"labelColor":"#222222","symbolType":"circle","symbolSize":30,"labelOffset":12,"rowPadding":3}}}},
  {"data":{"name":"cAnn"},"mark":{"type":"tick","orient":"horizontal","size":13,"thickness":2,"color":"black"},
   "encoding":{"x":{"field":"gene","type":"nominal"},"y":{"field":"btop","type":"quantitative"}}},
  {"data":{"name":"cAnn"},"mark":{"type":"tick","orient":"vertical","size":8,"thickness":2,"color":"black","xOffset":-6,"yOffset":4},
   "encoding":{"x":{"field":"gene","type":"nominal"},"y":{"field":"btop","type":"quantitative"}}},
  {"data":{"name":"cAnn"},"mark":{"type":"tick","orient":"vertical","size":8,"thickness":2,"color":"black","xOffset":6,"yOffset":4},
   "encoding":{"x":{"field":"gene","type":"nominal"},"y":{"field":"btop","type":"quantitative"}}},
  {"data":{"name":"cAnn"},"transform":[{"filter":"datum.kind==='star'"}],"mark":{"type":"text","fontSize":20,"fontWeight":"bold","baseline":"alphabetic","dy":11.5,"color":"black"},
   "encoding":{"x":{"field":"gene","type":"nominal"},"y":{"field":"ty","type":"quantitative"},"text":{"field":"lab"}}},
  {"data":{"name":"cAnn"},"transform":[{"filter":"datum.kind==='p'"}],"mark":{"type":"text","fontSize":14,"baseline":"middle","color":"#333333"},
   "encoding":{"x":{"field":"gene","type":"nominal"},"y":{"field":"ty","type":"quantitative"},"text":{"field":"lab"}}}
 ]},
{"width":10,"height":64,"data":{"values":[{}]},"mark":{"type":"point","opacity":0},
 "title":{"text":"D","anchor":"start","frame":"group","orient":"top","offset":0,"baseline":"top","dx":3,"dy":68.8,"fontSize":22,"fontWeight":"normal","font":"Liberation Sans","color":"black"}},
{"width":652,"height":121,"data":{"name":"dGo"},
 "layer":[
  {"mark":{"type":"bar","color":"#a100b6"},
   "encoding":{"y":{"field":"term","type":"nominal","sort":null,"scale":{"paddingInner":0.58,"paddingOuter":0.29},
     "axis":{"offset":-346,"title":null,"ticks":false,"tickSize":0,"labelPadding":15,"labelFont":"Lato","labelFontSize":16,"labelColor":"black","domainColor":"#d4d4d4","labelLimit":400}},
    "x":{"field":"n","type":"quantitative","scale":{"domain":[0,8],"range":[346,652],"nice":false},
     "axis":{"title":null,"values":[0,2,4,6,8],"format":"d","labelFont":"Lato","labelFontSize":12,"labelColor":"black","domainColor":"#868686","tickColor":"#868686","tickSize":5,"labelPadding":3,"labelFlush":false}}}},
  {"mark":{"type":"text","align":"left","baseline":"middle","dx":3,"font":"Lato","fontSize":12,"color":"#222222"},
   "encoding":{"y":{"field":"term","type":"nominal","sort":null},"x":{"field":"n","type":"quantitative"},"text":{"field":"p"}}}
 ]},
{"width":10,"height":31,"data":{"values":[{}]},"mark":{"type":"point","opacity":0},
 "title":{"text":"E","anchor":"start","frame":"group","orient":"top","offset":0,"baseline":"top","dx":3,"dy":39.8,"fontSize":22,"fontWeight":"normal","font":"Liberation Sans","color":"black"}},
{"width":717,"height":168,"data":{"name":"eGo"},
 "layer":[
  {"mark":{"type":"bar","color":"#4b7d46"},
   "encoding":{"y":{"field":"term","type":"nominal","sort":null,"scale":{"paddingInner":0.62,"paddingOuter":0.31},
     "axis":{"offset":-287,"title":null,"ticks":false,"tickSize":0,"labelPadding":14,"labelFont":"Lato","labelFontSize":12.8,"labelColor":"black","domainColor":"#9a9a9a","labelLimit":400}},
    "x":{"field":"n","type":"quantitative","scale":{"domain":[0,40],"range":[287,717],"nice":false},
     "axis":{"title":null,"values":[0,5,10,15,20,25,30,35,40],"format":"d","labelExpr":"datum.value % 10 === 0 ? datum.label : ''","labelFont":"Lato","labelFontSize":12,"labelColor":"black","domainColor":"#868686","tickColor":"#868686","tickSize":4,"labelPadding":2,"labelFlush":false}}}},
  {"mark":{"type":"text","align":"left","baseline":"middle","dx":8,"font":"Lato","fontSize":12,"color":"#222222"},
   "encoding":{"y":{"field":"term","type":"nominal","sort":null},"x":{"field":"n","type":"quantitative"},"text":{"field":"p"}}}
 ]}
]
}
